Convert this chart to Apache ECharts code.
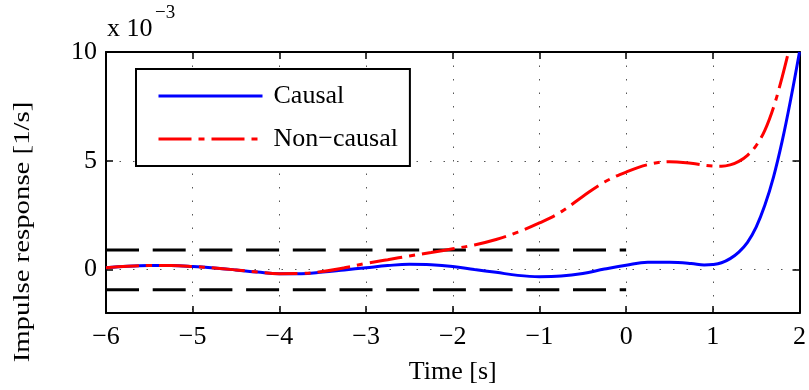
<!DOCTYPE html>
<html><head><meta charset="utf-8">
<script src="https://cdn.jsdelivr.net/npm/echarts@6/dist/echarts.min.js"></script>
<style>html,body{margin:0;padding:0;background:#fff}#c{width:809px;height:390px}</style>
</head><body><div id="c"></div>
<script>
// time axis in seconds, response in units of 1e-3 1/s
const timeCausal = [-6,-5.75,-5.5,-5.25,-5,-4.75,-4.5,-4.25,-4,-3.75,-3.5,-3.25,-3,-2.75,-2.5,-2.25,-2,-1.75,-1.5,-1.25,-1,-0.75,-0.5,-0.25,0,0.25,0.5,0.75,0.9,1.0,1.1,1.2,1.3,1.4,1.5,1.6,1.7,1.8,1.9,2.0];
const causal = [0.08,0.15,0.18,0.18,0.14,0.07,-0.02,-0.12,-0.19,-0.19,-0.12,-0.02,0.08,0.18,0.24,0.22,0.14,0.0,-0.13,-0.27,-0.33,-0.3,-0.18,0.02,0.2,0.33,0.33,0.28,0.21,0.23,0.31,0.5,0.8,1.25,1.95,2.95,4.25,5.9,7.85,10.0];
const timeNonCausal = [-6,-5.75,-5.5,-5.25,-5,-4.75,-4.5,-4.25,-4,-3.75,-3.5,-3.25,-3,-2.75,-2.5,-2.25,-2,-1.75,-1.5,-1.25,-1,-0.75,-0.5,-0.25,0,0.25,0.5,0.75,1.0,1.1,1.2,1.3,1.4,1.5,1.6,1.7,1.8,1.9];
const nonCausal = [0.08,0.15,0.18,0.18,0.14,0.07,-0.02,-0.12,-0.19,-0.18,-0.09,0.08,0.28,0.45,0.62,0.78,0.95,1.13,1.38,1.72,2.14,2.65,3.36,4.02,4.48,4.82,4.95,4.88,4.76,4.75,4.81,4.97,5.25,5.7,6.4,7.45,8.85,10.45];
const bandTime = [-6, 0];
const bandUpper = [0.9, 0.9];
const bandLower = [-0.93, -0.93];
const yTicks = [0, 5, 10];
const seriesNames = ['Causal', 'Non\u2212causal'];

const zip = (a, b) => a.map((v, i) => [v, b[i]]);
const FONT = 'Liberation Serif';
const grid = {left: 106, top: 52, right: 8, bottom: 76};
const gridLine = {show: true, lineStyle: {color: '#555', width: 1, type: [1.5, 12]}};
const axisLine = {show: true, onZero: false, lineStyle: {color: '#000', width: 2}};
const tick = {show: true, inside: true, length: 7, lineStyle: {color: '#000', width: 1.5}};

const chart = echarts.init(document.getElementById('c'), null, {renderer: 'canvas'});
chart.setOption({
  animation: false,
  backgroundColor: '#fff',
  grid: grid,
  legend: {
    data: seriesNames,
    orient: 'vertical',
    left: 136, top: 69,
    padding: [13, 12, 13, 21],
    itemGap: 15,
    itemWidth: 104, itemHeight: 28,
    backgroundColor: '#fff',
    borderColor: '#000', borderWidth: 2, borderRadius: 0,
    itemStyle: {opacity: 0},
    lineStyle: {width: 3},
    textStyle: {fontFamily: FONT, fontSize: 26, color: '#000', padding: [0, 0, 0, 6], lineHeight: 28}
  },
  xAxis: [{
    type: 'value', min: -6, max: 2, interval: 1, position: 'bottom',
    axisLine: axisLine, axisTick: tick, splitLine: gridLine,
    axisLabel: {fontFamily: FONT, fontSize: 26, color: '#000', margin: 11,
      formatter: v => String(v).replace('-', '\u2212')},
    name: 'Time [s]', nameLocation: 'middle', nameGap: 46,
    nameTextStyle: {fontFamily: FONT, fontSize: 26, color: '#000'}
  }, {
    type: 'value', min: -6, max: 2, interval: 1, position: 'top',
    axisLine: axisLine, axisTick: tick, splitLine: {show: false}, axisLabel: {show: false}
  }],
  yAxis: [{
    type: 'value', min: -2, max: 10, position: 'left',
    axisLine: axisLine,
    axisTick: Object.assign({customValues: yTicks}, tick),
    splitLine: gridLine,
    axisLabel: {customValues: yTicks, fontFamily: FONT, fontSize: 26, color: '#000', margin: 9}
  }, {
    type: 'value', min: -2, max: 10, position: 'right',
    axisLine: axisLine,
    axisTick: Object.assign({customValues: yTicks}, tick),
    splitLine: {show: false}, axisLabel: {show: false}
  }],
  graphic: [
    {type: 'text', left: 107, top: 16, style: {text: 'x 10', font: '26px "Liberation Serif"', fill: '#000'}},
    {type: 'text', left: 155, top: 4, style: {text: '\u22123', font: '19px "Liberation Serif"', fill: '#000'}},
    {type: 'text', x: 23, y: 232, rotation: Math.PI / 2, scaleX: 1.2,
      style: {text: 'Impulse response [1/s]', font: '24px "Liberation Serif"', fill: '#000', align: 'center', verticalAlign: 'middle'}}
  ],
  series: [
    {type: 'line', data: zip(bandTime, bandUpper), symbol: 'none', silent: true,
      lineStyle: {color: '#000', width: 3, type: [33, 13.7]}},
    {type: 'line', data: zip(bandTime, bandLower), symbol: 'none', silent: true,
      lineStyle: {color: '#000', width: 3, type: [33, 13.7]}},
    {name: seriesNames[0], type: 'line', data: zip(timeCausal, causal), symbol: 'none', smooth: 0.4,
      color: '#0000ff', lineStyle: {color: '#0000ff', width: 3}},
    {name: seriesNames[1], type: 'line', data: zip(timeNonCausal, nonCausal), symbol: 'none', smooth: 0.4,
      color: '#ff0000', lineStyle: {color: '#ff0000', width: 3, type: [33, 7, 6, 7]}}
  ]
});
</script>
</body></html>
